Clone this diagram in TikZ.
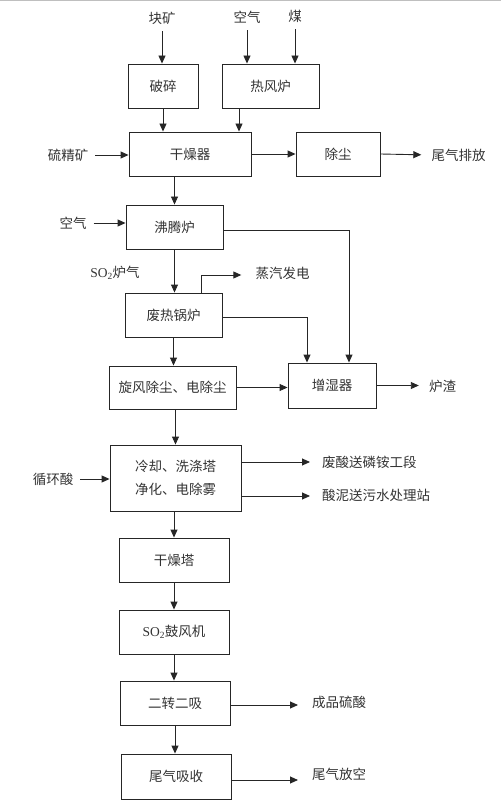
\documentclass[tikz,border=0pt]{standalone}
\usepackage{fontspec}
\setmainfont{Noto Sans CJK SC}
\newfontfamily\lat{Liberation Serif}
\usetikzlibrary{arrows.meta,calc}
\begin{document}
\begin{tikzpicture}[x=1pt,y=-1pt,
  box/.style={draw=black!85,line width=0.9pt,minimum height=44pt,inner sep=0pt,font=\fontsize{13.5}{16}\selectfont,text=black!80},
  lbl/.style={inner sep=0pt,font=\fontsize{13.5}{16}\selectfont,text=black!80},
  arr/.style={draw=black!85,line width=0.9pt,-{Triangle[length=8pt,width=7pt]}},
  src/.style={arr,shorten <=7pt},
  dst/.style={arr,shorten >=10pt}]
\useasboundingbox (0,0) rectangle (501,810);
\draw[gray!50,line width=1.2pt] (0,0.6) -- (501,0.6);
% boxes
\node[box,minimum width=70pt] (pz) at (163,86) {破碎};
\node[box,minimum width=97pt] (rfl) at (270.5,86) {热风炉};
\node[box,minimum width=122pt] (gzq) at (190,154) {干燥器};
\node[box,minimum width=84pt] (cc) at (338,154) {除尘};
\node[box,minimum width=97pt] (ftl) at (174.5,227) {沸腾炉};
\node[box,minimum width=97pt] (frgl) at (173.5,315) {废热锅炉};
\node[box,minimum width=127pt,minimum height=43pt] (xf) at (172.5,387.5) {旋风除尘、电除尘};
\node[box,minimum width=88pt,minimum height=45pt] (zsq) at (332,385.5) {增湿器};
\node[box,minimum width=131pt,minimum height=66pt,align=center,font=\fontsize{13.5}{23}\selectfont] (lq) at (175.5,478) {冷却、洗涤塔\\净化、电除雾};
\node[box,minimum width=110pt] (gzt) at (174,560) {干燥塔};
\node[box,minimum width=110pt] (gfj) at (174,632) {{\lat SO\textsubscript{2}}鼓风机};
\node[box,minimum width=110pt] (ez) at (175,703) {二转二吸};
\node[box,minimum width=110pt,minimum height=45pt] (wq) at (176,776.5) {尾气吸收};
% labels
\node[lbl] (kk) at (162,18) {块矿};
\node[lbl] (kq1) at (247,17) {空气};
\node[lbl] (mei) at (295,16) {煤};
\node[lbl] (ljk) at (68,155) {硫精矿};
\node[lbl] (wqpf) at (458.5,155) {尾气排放};
\node[lbl] (kq2) at (73,223) {空气};
\node[lbl] (so2) at (115,273) {{\lat SO\textsubscript{2}}炉气};
\node[lbl] (zqfd) at (282.5,273) {蒸汽发电};
\node[lbl] (lz) at (442.5,386) {炉渣};
\node[lbl] (xhs) at (53,479) {循环酸};
\node[lbl,anchor=west] (fs) at (322,462) {废酸送磷铵工段};
\node[lbl,anchor=west] (sn) at (322,495) {酸泥送污水处理站};
\node[lbl,anchor=west] (cp) at (312,702) {成品硫酸};
\node[lbl,anchor=west] (wk) at (312,774) {尾气放空};
% inputs
\draw[src] (kk.south) -- (kk.south |- pz.north);
\draw[src] (kq1.south) -- (kq1.south |- rfl.north);
\draw[src] (mei.south) -- (mei.south |- rfl.north);
\draw[src] (ljk.east) -- (ljk.east -| gzq.west);
\draw[src] (kq2.east) -- (kq2.east -| ftl.west);
\draw[src] (xhs.east) -- (xhs.east -| lq.west);
% main flow
\draw[arr] (pz.south) -- (pz.south |- gzq.north);
\draw[arr] ([xshift=-31.5pt]rfl.south) -- ([xshift=-31.5pt]rfl.south |- gzq.north);
\draw[arr] (gzq.east) -- (cc.west);
\draw[dst] (cc.east) -- (wqpf.west);
\draw[arr] (gzq.south -| ftl.north) -- (ftl.north);
\draw[arr] (ftl.south) -- (ftl.south |- frgl.north);
\draw[arr] (frgl.south) -- (frgl.south |- xf.north);
\draw[arr] (xf.east) -- (xf.east -| zsq.west);
\draw[dst] (zsq.east) -- (zsq.east -| lz.west);
\draw[arr] ([yshift=-3pt]ftl.east) -| ([xshift=17pt]zsq.north);
\draw[arr] ([yshift=-2pt]frgl.east) -| ([xshift=-25pt]zsq.north);
\draw[arr,shorten >=14pt] ([xshift=27.5pt]frgl.north) |- ([yshift=-2pt]zqfd.west);
\draw[arr] (xf.south -| lq.north) -- (lq.north);
\draw[arr,shorten >=12pt] ([yshift=-18pt]lq.east) -- ([yshift=-18pt]lq.east -| fs.west);
\draw[arr,shorten >=12pt] ([yshift=16pt]lq.east) -- ([yshift=16pt]lq.east -| sn.west);
\draw[arr] (lq.south -| gzt.north) -- (gzt.north);
\draw[arr] (gzt.south) -- (gzt.south |- gfj.north);
\draw[arr] (gfj.south) -- (gfj.south |- ez.north);
\draw[arr,shorten >=14pt] ([yshift=-2pt]ez.east) -- ([yshift=-2pt]ez.east -| cp.west);
\draw[arr] (ez.south) -- (ez.south |- wq.north);
\draw[arr,shorten >=14pt] ([yshift=-3.5pt]wq.east) -- ([yshift=-3.5pt]wq.east -| wk.west);
\end{tikzpicture}
\end{document}
